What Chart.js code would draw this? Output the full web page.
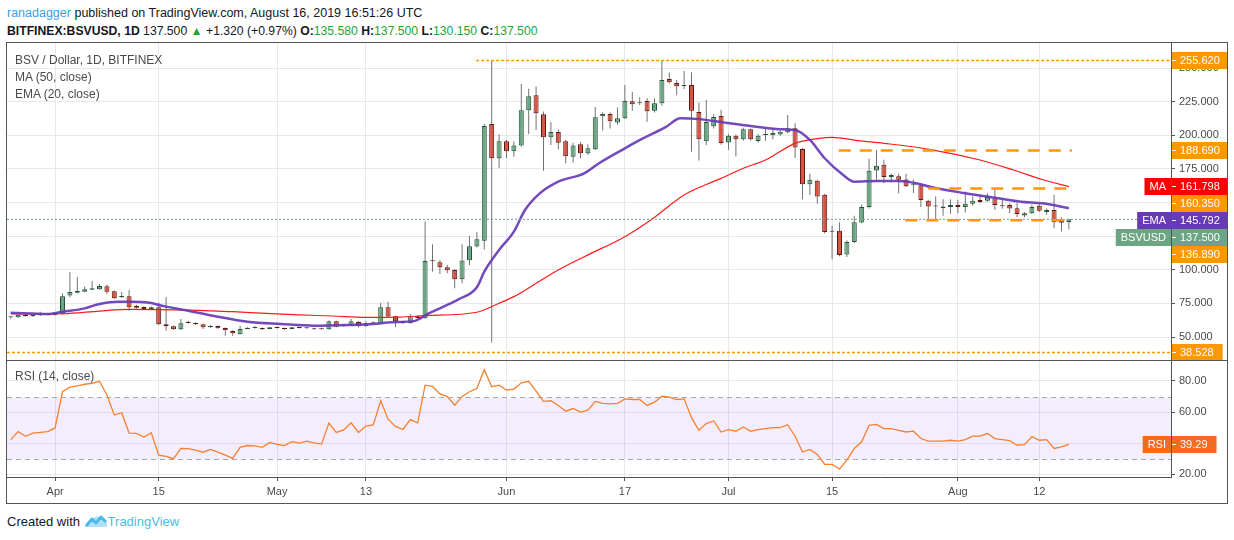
<!DOCTYPE html>
<html>
<head>
<meta charset="utf-8">
<title>BSV / Dollar, 1D</title>
<script src="https://cdn.jsdelivr.net/npm/chart.js@4.4.0/dist/chart.umd.min.js"></script>
<style>
  body { margin: 0; width: 1234px; height: 540px; background: #fff; position: relative; overflow: hidden;
         font-family: "Liberation Sans", Arial, sans-serif; color: #131722; }
  .hdr { position: absolute; left: 7px; font-size: 12.5px; line-height: 16px; white-space: nowrap; }
  .g { color: #21a638; }
  #frame { position: absolute; left: 6px; top: 42px; width: 1222px; height: 462px; border: 1px solid #555; box-sizing: border-box; }
  #mainBox { position: absolute; left: 0; top: 0; width: 1220px; height: 317px; }
  #rsiBox { position: absolute; left: 0; top: 317px; width: 1220px; height: 143px; border-top: 1px solid #555; box-sizing: border-box; }
  canvas { display: block; }
  .legend { position: absolute; left: 8px; font-size: 12px; line-height: 17px; color: #4a4a4a; white-space: nowrap; }
  #foot { position: absolute; left: 7px; top: 514px; font-size: 13px; line-height: 16px; white-space: nowrap; }
</style>
</head>
<body>
<div class="hdr" style="top:5px"><span style="color:#39a0e5">ranadagger</span> published on TradingView.com, August 16, 2019 16:51:26 UTC</div>
<div class="hdr" style="top:23px;font-size:12.2px"><b>BITFINEX:BSVUSD, 1D</b> 137.500 <span class="g">&#9650;</span> +1.320 (+0.97%) <b>O:</b><span class="g">135.580</span> <b>H:</b><span class="g">137.500</span> <b>L:</b><span class="g">130.150</span> <b>C:</b><span class="g">137.500</span></div>

<div id="frame">
  <div id="mainBox"><canvas id="mainChart" width="1220" height="317"></canvas></div>
  <div class="legend" style="top:9px">BSV / Dollar, 1D, BITFINEX<br>MA (50, close)<br>EMA (20, close)</div>
  <div id="rsiBox">
    <canvas id="rsiChart" width="1220" height="142"></canvas>
    <div class="legend" style="top:7px">RSI (14, close)</div>
  </div>
</div>

<div id="foot">Created with <svg width="24" height="14" viewBox="0 0 24 14" style="vertical-align:-2px"><path d="M2 12 L8 5 L12 9 L17 3 L22 8" fill="none" stroke="#4ebbe8" stroke-width="3" stroke-linejoin="round"/><path d="M1 13 Q3 6 8 6 Q11 1 16 3 Q21 3 23 9 L23 13 Z" fill="#4ebbe8" opacity="0.45"/></svg><span style="color:#4ebbe8">TradingView</span></div>

<script>
// day index 0 = Apr 1, 2019; the first candle is Mar 26
const FIRST_DAY = -6;

const OPEN = [
  64.6, 64.6, 66.6, 65.4, 66.1, 66.4, 66.4, 66.9, 80.8, 82.9,
  83.7, 85.2, 85.5, 87.7, 84.0, 79.5, 80.3, 73.1, 72.3, 70.8,
  72.1, 59.4, 58.0, 55.7, 61.0, 60.4, 59.4, 57.2, 58.2, 56.7,
  54.5, 52.0, 56.0, 56.7, 56.7, 56.0, 57.4, 56.7, 56.0, 57.4,
  56.9, 56.5, 56.5, 55.7, 61.7, 58.0, 58.7, 61.2, 58.0, 60.2,
  60.2, 72.1, 65.4, 61.7, 60.2, 65.4, 64.0, 106.6, 105.5, 101.8,
  99.8, 92.9, 107.0, 117.2, 121.6, 208.4, 182.9, 195.6, 188.1, 192.3,
  218.6, 229.8, 215.6, 198.5, 202.5, 195.5, 184.1, 193.3, 186.6, 189.6,
  214.1, 215.9, 209.4, 212.6, 225.3, 223.8, 225.5, 218.3, 223.8, 241.9,
  238.9, 236.6, 237.4, 217.3, 195.5, 206.7, 214.4, 194.7, 199.6, 197.1,
  204.4, 195.7, 200.2, 200.1, 200.6, 202.3, 205.2, 189.7, 163.6, 166.1,
  155.7, 128.6, 129.0, 111.4, 120.6, 135.2, 146.6, 173.8, 178.0, 168.9,
  169.6, 167.1, 162.8, 162.8, 151.3, 147.3, 146.0, 146.6, 148.1, 146.6,
  149.1, 151.9, 151.3, 153.1, 147.5, 148.1, 145.8, 140.4, 142.1, 147.6,
  142.9, 144.4, 134.9, 135.58
];
const HIGH = [
  65.3, 67.0, 67.0, 66.8, 68.7, 67.2, 67.6, 82.5, 98.3, 94.6,
  87.5, 91.6, 89.4, 89.0, 84.5, 83.5, 85.0, 74.0, 72.8, 72.6,
  75.8, 79.7, 58.5, 63.4, 62.1, 60.9, 59.9, 58.7, 58.6, 57.0,
  55.0, 58.2, 57.2, 58.2, 57.0, 57.5, 57.8, 57.0, 57.5, 57.8,
  57.3, 56.8, 56.8, 62.2, 62.0, 59.5, 63.4, 61.9, 61.7, 61.6,
  75.5, 76.3, 65.8, 62.0, 67.1, 65.8, 135.8, 118.9, 107.3, 103.5,
  100.5, 118.9, 125.1, 128.1, 208.4, 255.6, 200.8, 196.5, 195.3, 238.2,
  234.5, 236.3, 217.6, 209.9, 204.5, 196.5, 194.5, 195.0, 193.3, 221.1,
  216.9, 216.9, 220.6, 237.4, 232.2, 228.2, 227.5, 227.5, 255.62, 246.6,
  241.1, 247.8, 246.8, 224.3, 226.2, 215.9, 218.9, 201.0, 200.5, 205.5,
  205.0, 201.0, 205.0, 205.6, 203.5, 215.1, 209.0, 190.5, 171.3, 166.9,
  156.5, 132.7, 135.4, 122.0, 140.1, 148.3, 182.5, 189.2, 181.8, 171.3,
  171.3, 171.3, 166.9, 163.5, 152.0, 154.4, 152.5, 152.5, 152.0, 158.2,
  154.4, 156.2, 156.9, 160.6, 152.5, 149.5, 150.0, 143.0, 148.3, 149.0,
  145.6, 155.7, 139.0, 137.5
];
const LOW = [
  63.5, 64.3, 65.0, 65.0, 65.8, 66.2, 66.0, 66.5, 79.5, 82.4,
  83.2, 84.8, 85.2, 82.0, 78.3, 79.0, 69.3, 71.2, 70.3, 70.4,
  59.0, 54.7, 55.2, 55.2, 60.0, 58.9, 56.0, 56.9, 56.2, 51.0,
  51.0, 51.8, 55.7, 56.3, 55.2, 55.7, 56.4, 55.4, 55.8, 56.4,
  56.2, 55.4, 55.4, 55.4, 57.3, 57.6, 58.4, 57.0, 57.7, 59.9,
  59.9, 64.9, 57.2, 59.8, 59.8, 63.8, 63.7, 98.6, 96.9, 97.4,
  86.2, 89.9, 103.5, 116.5, 115.0, 46.0, 175.6, 182.9, 184.1, 191.5,
  201.0, 204.0, 173.7, 192.8, 189.6, 179.2, 179.7, 182.9, 185.4, 189.1,
  203.5, 205.0, 207.8, 212.0, 218.3, 222.5, 210.0, 216.9, 222.0, 238.5,
  229.8, 234.4, 187.8, 181.2, 192.8, 205.0, 193.0, 189.2, 184.3, 196.0,
  196.0, 194.5, 196.0, 196.9, 199.6, 201.5, 183.1, 152.5, 155.7, 149.0,
  127.0, 107.9, 110.0, 109.4, 119.8, 134.5, 145.5, 166.9, 164.4, 165.0,
  156.9, 161.5, 157.0, 146.6, 137.7, 137.7, 140.1, 141.4, 142.1, 142.6,
  147.6, 149.5, 150.6, 144.6, 145.3, 142.1, 139.1, 139.1, 141.5, 143.0,
  140.9, 130.9, 128.7, 130.15
];
const CLOSE = [
  64.8, 66.6, 65.4, 66.4, 66.9, 66.9, 67.1, 80.3, 83.5, 84.2,
  85.5, 86.2, 88.0, 83.7, 78.8, 80.5, 72.1, 71.8, 70.8, 72.1,
  59.4, 58.0, 55.7, 60.2, 60.4, 59.4, 57.2, 58.2, 56.5, 55.0,
  52.8, 56.0, 56.9, 56.8, 55.7, 57.2, 56.7, 55.7, 57.2, 56.7,
  56.6, 55.7, 55.7, 61.7, 57.7, 58.7, 61.7, 58.0, 60.2, 60.9,
  72.1, 65.2, 61.7, 60.2, 65.4, 64.2, 106.5, 106.3, 101.8, 99.6,
  92.9, 106.9, 117.4, 122.7, 206.9, 182.9, 195.6, 188.1, 192.3, 218.6,
  229.0, 216.4, 198.5, 202.5, 194.5, 184.4, 192.3, 186.6, 190.3, 213.4,
  215.9, 210.4, 212.6, 225.5, 223.0, 224.5, 217.8, 223.8, 241.1, 239.4,
  236.4, 237.4, 218.3, 197.0, 209.9, 213.6, 194.2, 199.6, 197.1, 204.4,
  197.1, 199.6, 200.6, 201.6, 202.6, 205.2, 190.9, 163.6, 166.9, 154.4,
  128.0, 128.3, 110.9, 120.6, 135.4, 146.6, 173.6, 177.3, 168.9, 170.4,
  166.9, 162.0, 163.6, 151.9, 147.1, 147.0, 147.1, 148.1, 146.6, 149.1,
  151.3, 150.4, 154.1, 148.1, 147.3, 145.6, 141.4, 142.1, 146.6, 143.9,
  144.4, 135.4, 136.18, 137.5
];
const RSI = [
  42.3, 47.5, 44.4, 46.5, 46.9, 47.5, 49.8, 73.1, 76.0, 76.9,
  77.9, 78.5, 79.8, 71.0, 58.1, 59.6, 46.5, 46.3, 44.0, 46.7,
  32.3, 31.5, 30.0, 36.7, 36.5, 35.6, 34.2, 36.0, 34.2, 32.3,
  30.2, 37.3, 38.5, 38.3, 37.3, 40.4, 39.2, 38.5, 41.0, 40.0,
  41.3, 40.2, 39.4, 52.9, 46.9, 48.5, 53.1, 46.9, 51.0, 51.7,
  67.3, 55.4, 50.8, 48.8, 55.2, 53.1, 77.3, 76.5, 71.7, 70.0,
  64.4, 70.0, 73.1, 75.2, 87.3, 76.3, 77.3, 74.2, 74.8, 78.8,
  79.8, 73.5, 66.9, 67.3, 64.2, 60.6, 62.3, 60.0, 61.3, 66.9,
  65.6, 65.3, 65.6, 68.5, 68.1, 68.1, 64.3, 66.4, 70.2, 69.6,
  68.1, 68.5, 56.4, 48.3, 52.6, 54.3, 47.2, 48.7, 47.7, 50.4,
  47.7, 48.7, 49.4, 50.0, 50.0, 51.9, 44.5, 34.3, 36.0, 32.8,
  26.4, 26.4, 23.4, 29.1, 36.6, 40.9, 51.5, 52.1, 49.4, 49.4,
  48.3, 47.2, 47.7, 43.0, 41.3, 41.3, 41.3, 41.9, 41.3, 42.3,
  44.5, 44.5, 46.2, 43.0, 42.3, 41.7, 38.7, 39.1, 44.3, 41.9,
  42.3, 36.6, 37.7, 39.29
];

// moving averages
const MA_DAYS = [-6, 1, 6, 10, 14, 21, 24, 28.5, 33, 37.5, 42, 46.5, 50, 57, 60, 62, 65, 68, 71.5, 77, 80.5,
                 85, 89.5, 90.5, 93, 96, 100, 103, 105, 108.5, 112, 118.5, 125, 129.5, 133.5, 137];
const MA_VALUES = [67.1, 67.3, 69.3, 70.6, 70.4, 69.5, 68.8, 67.6, 66.5, 65.6, 64.6, 64.8, 65.9, 68.4, 75.1, 80.0, 89.9, 99.8, 109.7, 124.6, 137.0,
                   155.6, 166.8, 169.2, 175.5, 181.6, 194.0, 197.5, 198.5, 196.0, 194.0, 189.2, 181.6, 174.2, 166.9, 161.798];
const EMA_DAYS = [-6, -1, 1, 4, 6, 8.5, 10.5, 12.5, 15, 17.5, 21.5, 26, 30.5, 35, 39.5, 43, 45.5, 48.5, 50.5, 52.5, 54.5,
                  57, 58, 60, 62, 63.5, 65.5, 68, 71.5, 73.5, 77, 79.5, 82.5, 84.5, 87, 90.5, 94, 98.5, 100, 102, 104,
                  106.5, 108, 111, 114, 116.5, 118.5, 123, 127.5, 130.5, 133.5, 137];
const EMA_VALUES = [68.1, 67.1, 68.8, 71.3, 74.6, 76.3, 76.3, 75.6, 72.6, 70.1, 65.6, 61.4, 59.7, 58.4, 58.9, 59.7, 61.0, 61.8, 67.6, 72.6, 78.0,
                    87.0, 98.6, 114.7, 128.3, 144.4, 156.8, 165.5, 171.7, 179.2, 190.3, 197.8, 206.0, 212.6, 212.0, 209.4, 206.9, 204.4, 203.9, 196.5, 182.9,
                    170.4, 165.5, 166.0, 166.0, 164.2, 161.3, 156.9, 153.1, 150.6, 149.4, 145.792];

// horizontal levels drawn by the author (price, first day, last day)
const LEVELS = [255.62, 188.69, 160.35, 136.89, 38.528];
const LEVEL_FROM = [56.9, 105.9, 118, 114.9, -6.5];
const LEVEL_TO = [150.8, 137.4, 137.4, 137.4, 150.8];

const TICK_DAYS = [0, 14, 30, 42, 61, 77, 91, 105, 122, 133];
const TICK_TEXT = ['Apr', '15', 'May', '13', 'Jun', '17', 'Jul', '15', 'Aug', '12'];
const PRICE_TICKS = [50, 75, 100, 125, 150, 175, 200, 225, 250];
const RSI_TICKS = [20, 40, 60, 80];
const RSI_BAND = [30, 70];

const X_MIN = -6.5, X_MAX = 150.8;

const DAYS = OPEN.map((_, i) => FIRST_DAY + i);
const lastClose = CLOSE[CLOSE.length - 1];

Chart.defaults.font.family = '"Liberation Sans", Arial, sans-serif';
Chart.defaults.font.size = 11;

const UP = '#6ba583', UP_EDGE = '#225437', DOWN = '#d75442', DOWN_EDGE = '#5b1a13';
const ORANGE = '#ff9800';
const AXIS = '#555';
const GRID = '#e8e8e8';

function drawTag(ctx, axisX, py, text, bg, leftText) {
  ctx.save();
  ctx.font = '11px "Liberation Sans", Arial, sans-serif';
  const h = 17, top = Math.round(py - h / 2), x0 = Math.round(axisX) + 1;
  const w = ctx.measureText(text).width + 17;
  ctx.fillStyle = bg;
  ctx.fillRect(x0, top, w, h);
  ctx.strokeStyle = '#fff';
  ctx.lineWidth = 1;
  ctx.beginPath();
  ctx.moveTo(x0, top + 8.5);
  ctx.lineTo(x0 + 4, top + 8.5);
  ctx.stroke();
  ctx.fillStyle = '#fff';
  ctx.textBaseline = 'middle';
  ctx.textAlign = 'left';
  ctx.fillText(text, x0 + 8, top + 9);
  if (leftText) {
    const lw = ctx.measureText(leftText).width + 10;
    ctx.fillStyle = bg;
    ctx.fillRect(x0 - 1 - lw, top, lw, h);
    ctx.fillStyle = '#fff';
    ctx.textAlign = 'center';
    ctx.fillText(leftText, x0 - 1 - lw / 2, top + 9);
  }
  ctx.restore();
}

const priceTags = {
  id: 'priceTags',
  afterDraw(chart) {
    const y = chart.scales.y;
    const tags = [
      { v: LEVELS[0], bg: ORANGE },
      { v: LEVELS[1], bg: ORANGE },
      { v: MA_VALUES[MA_VALUES.length - 1], bg: '#ff0000', tag: 'MA' },
      { v: LEVELS[2], bg: ORANGE },
      { v: EMA_VALUES[EMA_VALUES.length - 1], bg: '#673ab7', tag: 'EMA' },
      { v: lastClose, bg: UP, tag: 'BSVUSD' },
      { v: LEVELS[3], bg: ORANGE },
      { v: LEVELS[4], bg: ORANGE }
    ].map(t => ({ ...t, py: y.getPixelForValue(t.v) })).sort((a, b) => a.py - b.py);
    let prev = -1e9;
    tags.forEach(t => {
      if (t.py < prev + 17) t.py = prev + 17;
      prev = t.py;
      drawTag(chart.ctx, chart.chartArea.right, t.py, t.v.toFixed(3), t.bg, t.tag);
    });
  }
};

const rsiDecor = {
  id: 'rsiDecor',
  beforeDatasetsDraw(chart) {
    const { ctx, chartArea: a, scales: { y } } = chart;
    const top = Math.round(y.getPixelForValue(RSI_BAND[1])) + 0.5;
    const bot = Math.round(y.getPixelForValue(RSI_BAND[0])) + 0.5;
    ctx.save();
    ctx.fillStyle = 'rgba(150, 80, 240, 0.1)';
    ctx.fillRect(a.left, top, a.right - a.left, bot - top);
    ctx.strokeStyle = '#a8a8a8';
    ctx.lineWidth = 1;
    ctx.setLineDash([5, 4]);
    [top, bot].forEach(py => {
      ctx.beginPath();
      ctx.moveTo(a.left, py);
      ctx.lineTo(a.right, py);
      ctx.stroke();
    });
    ctx.restore();
  },
  afterDraw(chart) {
    const v = RSI[RSI.length - 1];
    drawTag(chart.ctx, chart.chartArea.right, chart.scales.y.getPixelForValue(v), v.toFixed(2), '#f36b21', 'RSI');
  }
};

function xAxis(showLabels) {
  return {
    type: 'linear', min: X_MIN, max: X_MAX, offset: false,
    afterBuildTicks: a => { a.ticks = TICK_DAYS.map(v => ({ value: v })); },
    afterFit: a => { a.height = showLabels ? 26 : 0; a.paddingLeft = 0; a.paddingRight = 0; },
    ticks: {
      display: showLabels, autoSkip: false, maxRotation: 0, color: '#4a4a4a', padding: 4,
      callback: v => TICK_TEXT[TICK_DAYS.indexOf(v)]
    },
    grid: { color: GRID, offset: false, drawTicks: showLabels, tickLength: 4, tickColor: AXIS },
    border: { display: showLabels, color: AXIS }
  };
}

function yAxis(min, max, ticks, digits) {
  return {
    position: 'right', min: min, max: max,
    afterBuildTicks: a => { a.ticks = ticks.map(v => ({ value: v })); },
    afterFit: a => { a.width = 56; a.paddingTop = 0; a.paddingBottom = 0; },
    ticks: { color: '#4a4a4a', padding: 4, callback: v => v.toFixed(digits) },
    grid: { color: GRID, tickLength: 4, tickColor: AXIS },
    border: { color: AXIS }
  };
}

const levelSets = LEVELS.map((v, i) => {
  const outer = i === 0 || i === LEVELS.length - 1;
  return {
    type: 'line',
    data: [{ x: LEVEL_FROM[i], y: v }, { x: LEVEL_TO[i], y: v }],
    borderColor: ORANGE,
    borderWidth: outer ? 1.5 : 2.5,
    borderDash: outer ? [3, 2] : [12, 9],
    pointRadius: 0,
    order: 0
  };
});

new Chart(document.getElementById('mainChart'), {
  type: 'bar',
  data: {
    labels: DAYS,
    datasets: [
      ...levelSets,
      {
        type: 'line',
        data: [{ x: X_MIN, y: lastClose }, { x: X_MAX, y: lastClose }],
        borderColor: UP, borderWidth: 1, borderDash: [2, 2], pointRadius: 0, order: 1
      },
      {
        type: 'line', label: 'EMA (20, close)',
        data: EMA_DAYS.map((d, i) => ({ x: d, y: EMA_VALUES[i] })),
        borderColor: 'rgba(103, 58, 183, 0.92)', borderWidth: 2.5, pointRadius: 0,
        cubicInterpolationMode: 'monotone', order: 2
      },
      {
        type: 'line', label: 'MA (50, close)',
        data: MA_DAYS.map((d, i) => ({ x: d, y: MA_VALUES[i] })),
        borderColor: '#ff1a1a', borderWidth: 1.2, pointRadius: 0,
        cubicInterpolationMode: 'monotone', order: 2
      },
      {
        label: 'body',
        data: OPEN.map((o, i) => [o, CLOSE[i]]),
        backgroundColor: OPEN.map((o, i) => CLOSE[i] >= o ? UP : DOWN),
        borderColor: OPEN.map((o, i) => CLOSE[i] >= o ? UP_EDGE : DOWN_EDGE),
        borderWidth: 1, borderSkipped: false, barThickness: 5, minBarLength: 1,
        grouped: false, inflateAmount: 0, order: 3
      },
      {
        label: 'wick',
        data: LOW.map((l, i) => [l, HIGH[i]]),
        backgroundColor: '#737375',
        barThickness: 1, grouped: false, inflateAmount: 0, order: 4
      }
    ]
  },
  options: {
    responsive: false, animation: false,
    layout: { padding: 0 },
    plugins: { legend: { display: false }, tooltip: { enabled: false } },
    scales: { x: xAxis(false), y: yAxis(32.9, 268.6, PRICE_TICKS, 3) }
  },
  plugins: [priceTags]
});

new Chart(document.getElementById('rsiChart'), {
  type: 'line',
  data: {
    labels: DAYS,
    datasets: [{
      label: 'RSI (14, close)', data: RSI,
      borderColor: '#f7802f', borderWidth: 1.3, pointRadius: 0, tension: 0
    }]
  },
  options: {
    responsive: false, animation: false,
    layout: { padding: 0 },
    plugins: { legend: { display: false }, tooltip: { enabled: false } },
    scales: { x: xAxis(true), y: yAxis(18.26, 92.86, RSI_TICKS, 2) }
  },
  plugins: [rsiDecor]
});
</script>
</body>
</html>
